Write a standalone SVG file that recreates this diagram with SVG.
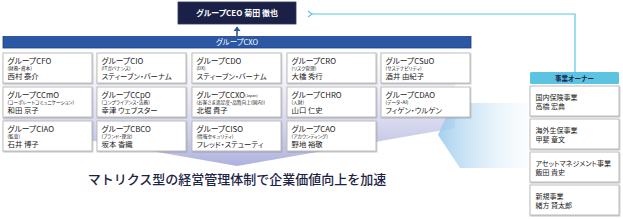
<svg xmlns="http://www.w3.org/2000/svg" width="623" height="219" viewBox="0 0 623 219">
<style>
  text { font-family: "Noto Sans CJK JP", "Noto Sans", sans-serif; fill: #222; }
  .box { fill: #fff; stroke: #bdbdbd; stroke-width: 1; filter: url(#sh); }
  .t { font-size: 7.8px; font-feature-settings: "palt"; }
  .s { font-size: 4.7px; font-feature-settings: "palt"; }
  .n { font-size: 7.4px; font-feature-settings: "palt"; }
  .o { font-size: 7px; font-feature-settings: "palt"; }
  .w { fill: #fff; }
</style>
<defs>
  <filter id="sh" x="-10%" y="-20%" width="120%" height="150%">
    <feDropShadow dx="0.6" dy="0.9" stdDeviation="0.7" flood-color="#777" flood-opacity="0.5"/>
  </filter>
  <linearGradient id="lav" x1="0" y1="48" x2="0" y2="166" gradientUnits="userSpaceOnUse">
    <stop offset="0" stop-color="#e4e4f4" stop-opacity="0"/>
    <stop offset="0.45" stop-color="#d6d7ef" stop-opacity="0.6"/>
    <stop offset="1" stop-color="#aeb1dc"/>
  </linearGradient>
  <linearGradient id="blu" x1="438" y1="0" x2="528" y2="0" gradientUnits="userSpaceOnUse">
    <stop offset="0" stop-color="#9ccbec" stop-opacity="0.9"/>
    <stop offset="1" stop-color="#e6f3fb" stop-opacity="0.2"/>
  </linearGradient>
  <marker id="cy" markerWidth="8" markerHeight="8" refX="1" refY="4" orient="auto" markerUnits="userSpaceOnUse">
    <path d="M5,1 L1,4 L5,7" fill="none" stroke="#5cc6e6" stroke-width="1.2"/>
  </marker>
  <marker id="nv" markerWidth="8" markerHeight="8" refX="4" refY="1" orient="0" markerUnits="userSpaceOnUse">
    <path d="M0.5,5 L4,0.5 L7.5,5 Z" fill="#2b57a5"/>
  </marker>
</defs>

<!-- background shapes -->
<polygon points="3,48 455,48 455,128 237,166 20,128 3,120" fill="url(#lav)"/>
<polygon points="452,103 528,103 528,168 460,168 438,135" fill="url(#blu)"/>

<g id="connectors">
  <path d="M575,72 V14 H312" fill="none" stroke="#5cc6e6" stroke-width="1.2" marker-end="url(#cy)"/>
  <path d="M237,36 V27" fill="none" stroke="#2b57a5" stroke-width="1.6" marker-end="url(#nv)"/>
</g>

<g id="ceo">
  <rect x="178" y="2" width="118" height="22" fill="#1b2046" stroke="#2e3560" stroke-width="0.8"/>
  <text x="237" y="16" text-anchor="middle" class="w" font-size="8px" font-weight="bold" style="font-feature-settings:'palt'">グループCEO 菊田 徹也</text>
</g>

<g id="cxo">
  <rect x="3" y="36.5" width="468" height="11.5" fill="#2b57a5" stroke="#1d3f88" stroke-width="0.8"/>
  <text x="237" y="45" text-anchor="middle" class="w" font-size="7.5px" style="font-feature-settings:'palt'">グループCXO</text>
</g>

<!-- row 1 -->
<g id="cfo"><rect class="box" x="3" y="53" width="89" height="30"/>
  <text class="t" x="7.5" y="64">グループCFO</text><text class="s" x="7.5" y="69.8">(財務・資本)</text><text class="n" x="7.5" y="78.6">西村 泰介</text></g>
<g id="cio"><rect class="box" x="97" y="53" width="89" height="30"/>
  <text class="t" x="101.5" y="64">グループCIO</text><text class="s" x="101.5" y="69.8">(ITガバナンス)</text><text class="n" x="101.5" y="78.6">スティーブン・バーナム</text></g>
<g id="cdo"><rect class="box" x="192" y="53" width="89" height="30"/>
  <text class="t" x="196.5" y="64">グループCDO</text><text class="s" x="196.5" y="69.8">(DX)</text><text class="n" x="196.5" y="78.6">スティーブン・バーナム</text></g>
<g id="cro"><rect class="box" x="287" y="53" width="89" height="30"/>
  <text class="t" x="291.5" y="64">グループCRO</text><text class="s" x="291.5" y="69.8">(リスク管理)</text><text class="n" x="291.5" y="78.6">大橋 秀行</text></g>
<g id="csuo"><rect class="box" x="381" y="53" width="89" height="30"/>
  <text class="t" x="385.5" y="64">グループCSuO</text><text class="s" x="385.5" y="69.8">(サステナビリティ)</text><text class="n" x="385.5" y="78.6">酒井 由紀子</text></g>

<!-- row 2 -->
<g id="ccmo"><rect class="box" x="3" y="87" width="89" height="30"/>
  <text class="t" x="7.5" y="98">グループCCmO</text><text class="s" x="7.5" y="103.8">(コーポレートコミュニケーション)</text><text class="n" x="7.5" y="112.6">和田 京子</text></g>
<g id="ccpo"><rect class="box" x="97" y="87" width="89" height="30"/>
  <text class="t" x="101.5" y="98">グループCCpO</text><text class="s" x="101.5" y="103.8">(コンプライアンス・法務)</text><text class="n" x="101.5" y="112.6">幸津 ウェブスター</text></g>
<g id="ccxo"><rect class="box" x="192" y="87" width="89" height="30"/>
  <text class="t" x="196.5" y="98">グループCCXO<tspan font-size="3.6px" dy="-1">(Japan)</tspan></text><text class="s" x="196.5" y="103.8">(お客さま満足度・品質向上(国内))</text><text class="n" x="196.5" y="112.6">北堀 貴子</text></g>
<g id="chro"><rect class="box" x="287" y="87" width="89" height="30"/>
  <text class="t" x="291.5" y="98">グループCHRO</text><text class="s" x="291.5" y="103.8">(人財)</text><text class="n" x="291.5" y="112.6">山口 仁史</text></g>
<g id="cdao"><rect class="box" x="381" y="87" width="89" height="30"/>
  <text class="t" x="385.5" y="98">グループCDAO</text><text class="s" x="385.5" y="103.8">(データ・AI)</text><text class="n" x="385.5" y="112.6">フィゲン・ウルゲン</text></g>

<!-- row 3 -->
<g id="ciao"><rect class="box" x="3" y="121" width="89" height="30"/>
  <text class="t" x="7.5" y="132">グループCIAO</text><text class="s" x="7.5" y="137.8">(監査)</text><text class="n" x="7.5" y="146.6">石井 博子</text></g>
<g id="cbco"><rect class="box" x="97" y="121" width="89" height="30"/>
  <text class="t" x="101.5" y="132">グループCBCO</text><text class="s" x="101.5" y="137.8">(ブランド・理念)</text><text class="n" x="101.5" y="146.6">坂本 香織</text></g>
<g id="ciso"><rect class="box" x="192" y="121" width="89" height="30"/>
  <text class="t" x="196.5" y="132">グループCISO</text><text class="s" x="196.5" y="137.8">(情報セキュリティ)</text><text class="n" x="196.5" y="146.6">フレッド・ステューティ</text></g>
<g id="cao"><rect class="box" x="287" y="121" width="89" height="30"/>
  <text class="t" x="291.5" y="132">グループCAO</text><text class="s" x="291.5" y="137.8">(アカウンティング)</text><text class="n" x="291.5" y="146.6">野地 裕敬</text></g>

<text x="237" y="184" text-anchor="middle" font-size="13px" font-weight="500" style="fill:#1c2345">マトリクス型の経営管理体制で企業価値向上を加速</text>

<!-- business owners -->
<g id="owners-header">
  <rect x="530" y="72" width="89" height="12" rx="1.5" fill="#5cc4e2"/>
  <text x="574.5" y="80.5" text-anchor="middle" font-size="6.5px" font-weight="bold" style="fill:#1b2046">事業オーナー</text>
</g>
<g id="domestic"><rect class="box" x="530" y="86" width="89" height="30"/>
  <text class="o" x="535.5" y="100">国内保険事業</text><text class="o" x="535.5" y="108.5">高橋 宏典</text></g>
<g id="overseas"><rect class="box" x="530" y="119" width="89" height="30"/>
  <text class="o" x="535.5" y="133">海外生保事業</text><text class="o" x="535.5" y="141.5">甲斐 章文</text></g>
<g id="asset"><rect class="box" x="530" y="152" width="89" height="30"/>
  <text class="o" x="535.5" y="166">アセットマネジメント事業</text><text class="o" x="535.5" y="174.5">飯田 貴史</text></g>
<g id="new"><rect class="box" x="530" y="185" width="89" height="30"/>
  <text class="o" x="535.5" y="199">新規事業</text><text class="o" x="535.5" y="207.5">緒方 賢太郎</text></g>
</svg>
